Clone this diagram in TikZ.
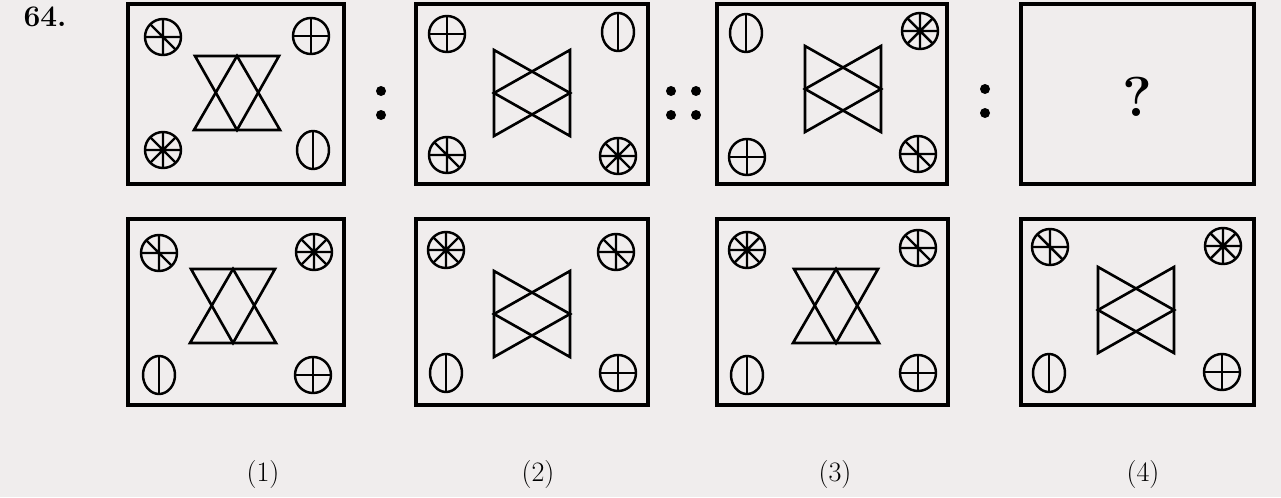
\documentclass[tikz,border=0pt]{standalone}
\usepackage{amsmath}
\usepackage{tikz}

\definecolor{paper}{RGB}{240,237,237}

\newcommand{\wheelsym}[1]{%
  \begin{scope}[shift={(#1)}]
    \draw[symline] (0,0) circle (18);
    \draw[symline] (-18,0) -- (18,0) (0,-18) -- (0,18)
      (-12.7,-12.7) -- (12.7,12.7) (12.7,-12.7) -- (-12.7,12.7);
  \end{scope}}
\newcommand{\crosssym}[1]{%
  \begin{scope}[shift={(#1)}]
    \draw[symline] (0,0) circle (18);
    \draw[symline] (-18,0) -- (18,0) (0,-18) -- (0,18);
  \end{scope}}
\newcommand{\slashsym}[1]{%
  \begin{scope}[shift={(#1)}]
    \draw[symline] (0,0) circle (18);
    \draw[symline] (-18,0) -- (18,0) (0,-18) -- (0,18)
      (-12.7,-12.7) -- (12.7,12.7);
  \end{scope}}
\newcommand{\barsym}[1]{%
  \begin{scope}[shift={(#1)}]
    \draw[symline] (0,0) ellipse (16 and 19);
    \draw[symline] (0,-19) -- (0,19);
  \end{scope}}
\newcommand{\vfig}[1]{%
  \begin{scope}[shift={(#1)}]
    \draw[figline] (-42,-37) -- (42,-37) -- (0,37) -- cycle;
    \draw[figline] (-43,37) -- (43,37) -- (0,-37) -- cycle;
  \end{scope}}
\newcommand{\hfig}[1]{%
  \begin{scope}[shift={(#1)}]
    \draw[figline] (-38,-43) -- (-38,43) -- (38,0) -- cycle;
    \draw[figline] (38,-43) -- (38,43) -- (-38,0) -- cycle;
  \end{scope}}

\begin{document}
\begin{tikzpicture}[x=0.02cm,y=-0.02cm,
  boxline/.style={line width=2.2pt},
  figline/.style={line width=1.5pt},
  symline/.style={line width=1.4pt},
  optlabel/.style={font=\fontsize{16}{18}\selectfont}]
\fill[paper] (0,0) rectangle (1281,497);
\useasboundingbox (0,0) rectangle (1281,497);
\node (qnum) at (45,17) {\fontsize{17}{20}\selectfont\bfseries 64.};
% question row
\draw[boxline] (128,4) rectangle (344,184);
\slashsym{163,37} \crosssym{311,36} \wheelsym{163,150} \barsym{313,150}
\vfig{237,93}
\fill (381,91) circle (5); \fill (381,115) circle (5);
\draw[boxline] (416,4) rectangle (648,184);
\crosssym{447,34} \barsym{618,32} \slashsym{447,155} \wheelsym{618,156}
\hfig{532,93}
\fill (671,91) circle (5); \fill (671,115) circle (5);
\fill (696,91) circle (5); \fill (696,115) circle (5);
\draw[boxline] (717,4) rectangle (947,184);
\barsym{746,33} \wheelsym{920,31} \crosssym{747,157} \slashsym{918,154}
\hfig{843,89}
\fill (985,89) circle (5); \fill (985,113) circle (5);
\draw[boxline] (1021,4) rectangle (1254,184);
\node (qmark) at (1137,97) {\fontsize{32}{36}\selectfont\bfseries ?};
% answer row
\draw[boxline] (128,219) rectangle (344,405);
\slashsym{159,253} \wheelsym{314,252} \barsym{159,375} \crosssym{313,375}
\vfig{233,306}
\draw[boxline] (416,219) rectangle (648,405);
\wheelsym{446,250} \slashsym{616,252} \barsym{446,373} \crosssym{618,373}
\hfig{532,314}
\draw[boxline] (717,219) rectangle (948,405);
\wheelsym{747,250} \slashsym{918,248} \barsym{747,375} \crosssym{918,373}
\vfig{836,306}
\draw[boxline] (1021,219) rectangle (1254,405);
\slashsym{1050,247} \wheelsym{1223,246} \barsym{1049,373} \crosssym{1222,372}
\hfig{1136,310}
% option labels
\node[optlabel] (opta) at (263,474) {(1)};
\node[optlabel] (optb) at (538,474) {(2)};
\node[optlabel] (optc) at (835,474) {(3)};
\node[optlabel] (optd) at (1143,474) {(4)};
\end{tikzpicture}
\end{document}
